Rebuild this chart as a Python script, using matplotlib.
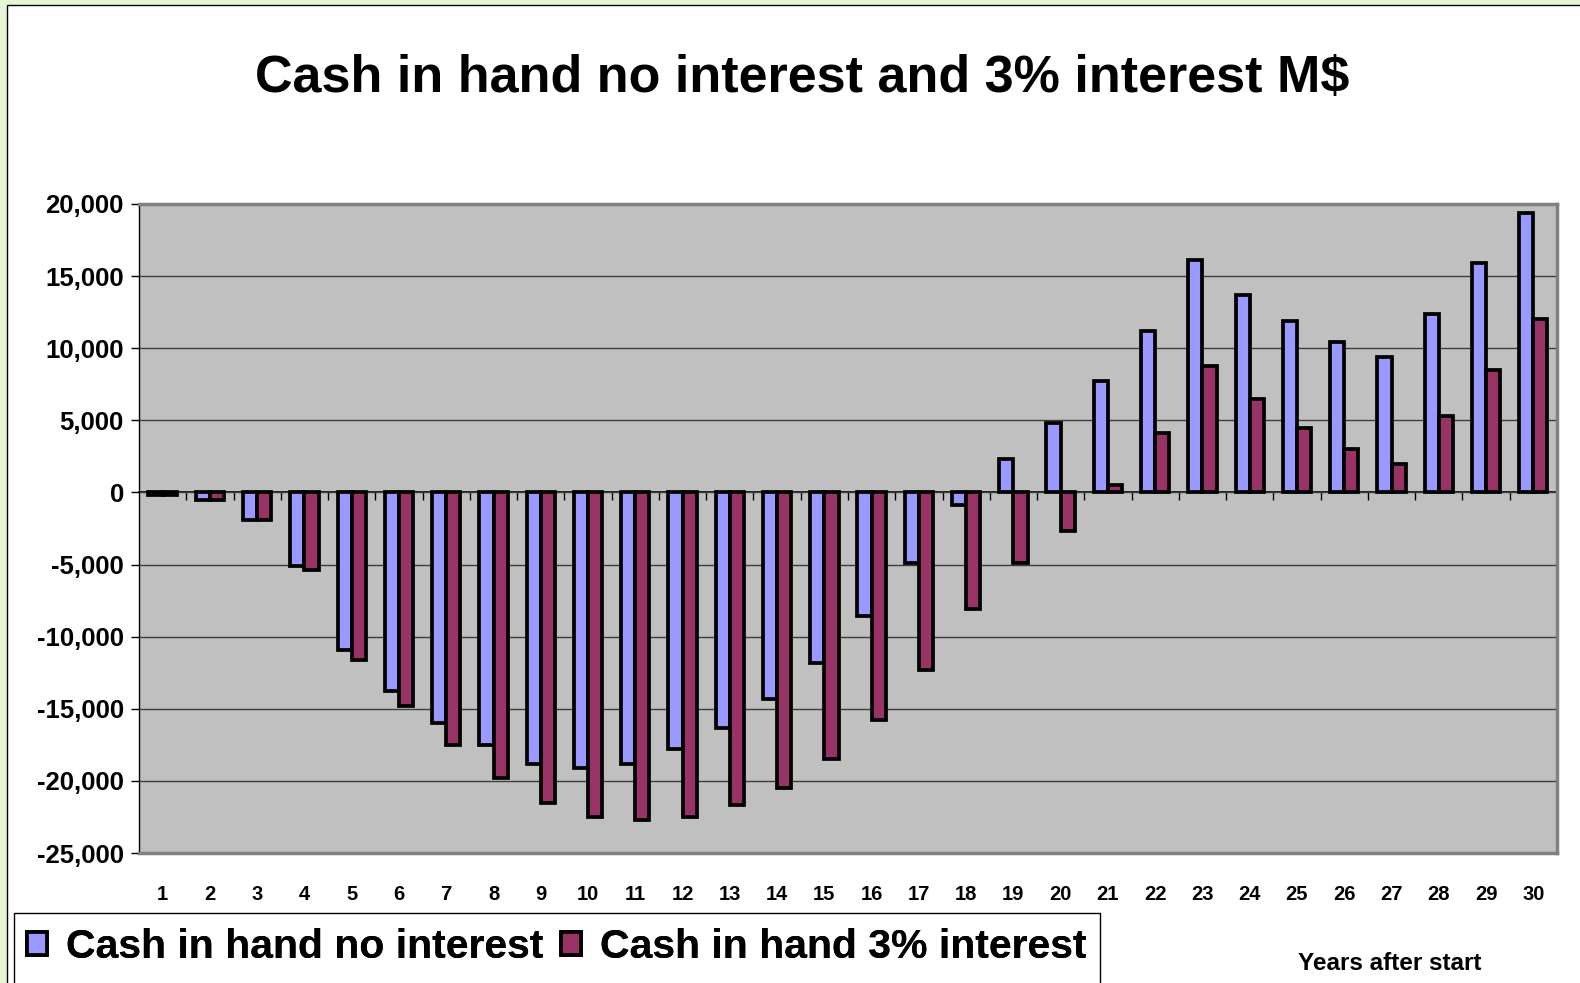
import numpy as np
import matplotlib
matplotlib.use("Agg")
import matplotlib.pyplot as plt
from matplotlib.patches import Rectangle
from matplotlib.ticker import FuncFormatter

plt.rcParams['font.family'] = ['Liberation Sans', 'DejaVu Sans']
plt.rcParams['font.weight'] = 'bold'

# data (M$)
years = list(range(1, 31))
no_interest = [-150, -500, -1900, -5100, -10900, -13800, -16000, -17500, -18800, -19100,
               -18800, -17800, -16300, -14300, -11800, -8600, -4900, -900, 2300, 4800,
               7700, 11200, 16100, 13700, 11900, 10400, 9400, 12400, 15900, 19400]
interest_3 = [-160, -500, -1900, -5400, -11600, -14800, -17500, -19800, -21500, -22500,
              -22700, -22500, -21700, -20500, -18500, -15800, -12300, -8100, -4900, -2700,
              500, 4100, 8800, 6500, 4500, 3000, 2000, 5300, 8500, 12000]
yticks = list(range(-25000, 20001, 5000))

fig = plt.figure(figsize=(15.8, 9.83), dpi=100, facecolor='#e4f6d4')

# white slide with thin black border
fig.add_artist(Rectangle((0.0044, -0.02), 1.1, 1.015, transform=fig.transFigure,
                         facecolor='white', edgecolor='black', lw=1, zorder=-5))

ax = fig.add_axes([0.088, 0.1322, 0.8974, 0.6603])
ax.set_facecolor('#c0c0c0')

x = np.array(years)
w = 0.30
b1 = ax.bar(x - w / 2, no_interest, w, color='#9999ff', edgecolor='black', lw=2.7,
            label='Cash in hand no interest', zorder=3)
b2 = ax.bar(x + w / 2, interest_3, w, color='#993366', edgecolor='black', lw=2.7,
            label='Cash in hand 3% interest', zorder=3)

ax.set_xlim(0.5, 30.5)
ax.set_ylim(-25000, 20000)
ax.set_xticks(years)
ax.set_xticklabels([str(y) for y in years], fontsize=14.5, fontweight='bold')
ax.tick_params(axis='x', length=0, pad=23)
ax.set_yticks(yticks)
ax.yaxis.set_major_formatter(FuncFormatter(lambda v, p: f'{v:,.0f}'))
ax.tick_params(axis='y', length=6, width=1, pad=5, labelsize=18.5, direction='out')
for lab in ax.get_yticklabels():
    lab.set_fontweight('bold')
ax.yaxis.grid(True, color='#3c3c3c', lw=1)
ax.set_axisbelow(True)

for s in ['top', 'right', 'bottom']:
    ax.spines[s].set_color('#808080')
    ax.spines[s].set_linewidth(2.5)
ax.spines['left'].set_color('black')
ax.spines['left'].set_linewidth(1)

# category axis at zero with ticks between categories
sec = ax.secondary_xaxis(25000 / 45000)
sec.set_alignment('bottom')
sec.set_xticks(np.arange(1.5, 30.5, 1.0))
sec.tick_params(axis='x', direction='out', length=6, width=1, labelbottom=False,
                labeltop=False)
sec.spines['bottom'].set_color('black')
sec.spines['bottom'].set_linewidth(1.2)
sec.spines['top'].set_visible(False)

fig.text(0.508, 0.92, 'Cash in hand no interest and 3% interest M$',
         ha='center', va='center', fontsize=37.5, fontweight='bold')

# legend box
fig.add_artist(Rectangle((14 / 1580, -0.05), 1086 / 1580, 0.05 + 1 - 913 / 983,
                         transform=fig.transFigure, facecolor='white',
                         edgecolor='black', lw=1, zorder=1))
for h, xpos in [(b1, 27 / 1580), (b2, 561 / 1580)]:
    leg = fig.legend(handles=[h], loc='center left', bbox_to_anchor=(xpos, 1 - 947 / 983),
                     frameon=False, handlelength=0.5, handleheight=0.5,
                     handletextpad=0.45, borderpad=0, borderaxespad=0,
                     prop={'weight': 'bold', 'size': 29.5})
    leg.set_zorder(2)
    fig.add_artist(leg)

fig.text(1390 / 1580, 1 - 964 / 983, 'Years after start', ha='center', va='center',
         fontsize=17.5, fontweight='bold')

fig.savefig('out.png', dpi=100, facecolor=fig.get_facecolor())
